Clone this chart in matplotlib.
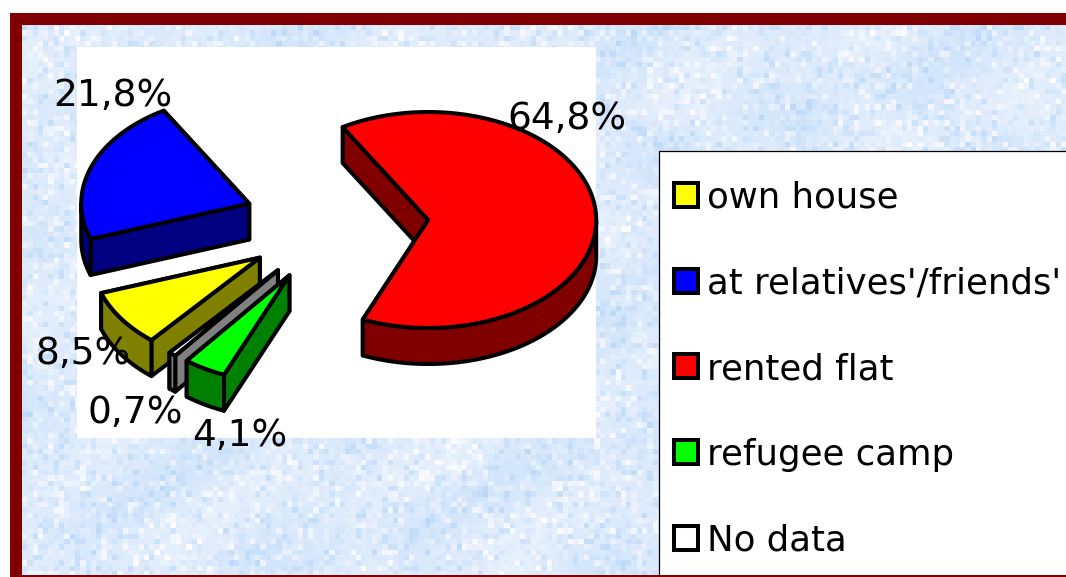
import numpy as np
import matplotlib
matplotlib.use('Agg')
import matplotlib.pyplot as plt
from matplotlib.patches import Polygon, Rectangle

# Data
categories = ['own house', "at relatives'/friends'", 'rented flat', 'refugee camp', 'No data']
values = [8.5, 21.8, 64.8, 4.1, 0.7]
top_colors = ['#ffff00', '#0000ff', '#ff0000', '#00ff00', '#ffffff']
wall_colors = ['#808000', '#000080', '#800000', '#008000', '#808080']

# Pie geometry, in pixels of the picture
center_x, center_y = 336, 224
radius_x, radius_y = 168, 108
depth = 36
explode = 0.55
start_angle = 229.8

label_pos = [(36, 364), (53, 106), (507, 129), (192, 446), (87, 423)]

W, H = 1066, 577
fig = plt.figure(figsize=(W / 100, H / 100), dpi=100, facecolor='white')
ax = fig.add_axes([0, 0, 1, 1])
ax.set_xlim(0, W)
ax.set_ylim(H, 0)
ax.axis('off')

# Dark red frame and the marbled background
ax.add_patch(Rectangle((10, 12.5), W, H, facecolor='#800000', edgecolor='none', zorder=0))
cell = 5.3
nx, ny = int((W - 22) / cell) + 1, int((H - 25) / cell) + 1
jj, ii = np.meshgrid(np.arange(nx), np.arange(ny))
hash1 = np.sin(ii * 12.9898 + jj * 78.233) * 43758.5453
hash1 = hash1 - np.floor(hash1)
blotch = 0.5 * np.sin(jj / 5.0 + np.sin(ii / 7.0) * 2) + 0.5 * np.sin(ii / 4.0 + jj / 11.0)
shade = 0.32 * (hash1 - 0.5) ** 3 * 8 + 0.12 * blotch
base = np.array([221, 235, 252]) / 255
spread = np.array([42, 22, 4]) / 255
texture = np.clip(base[None, None, :] + shade[:, :, None] * spread * 2, 0, 1)
ax.imshow(texture, extent=(22, 22 + nx * cell, 25 + ny * cell, 25), interpolation='nearest',
          aspect='auto', zorder=1)
ax.set_xlim(0, W)
ax.set_ylim(H, 0)

# White plot area
ax.add_patch(Rectangle((77, 47), 519, 391, facecolor='white', edgecolor='none', zorder=2))


def rim(cx, cy, angles):
    a = np.radians(angles)
    return np.column_stack([cx + radius_x * np.cos(a), cy - radius_y * np.sin(a)])


def draw_slice(cx, cy, a_high, a_low, top, wall):
    style = dict(edgecolor='black', linewidth=2.9, joinstyle='round', zorder=3)
    arc = rim(cx, cy, np.linspace(a_low, a_high, 200))
    apex = np.array([cx, cy])
    drop = np.array([0, depth])

    # the two cut faces, the one further back first
    faces = [arc[0], arc[-1]]
    faces.sort(key=lambda p: p[1])
    for p in faces:
        ax.add_patch(Polygon([apex, p, p + drop, apex + drop], facecolor=wall, **style))

    # outer wall, only the part of the rim that faces the viewer
    low = a_low % 360
    angles = np.linspace(low, low + (a_high - a_low), 400)
    visible = np.sin(np.radians(angles)) <= 0
    if visible.any():
        part = rim(cx, cy, angles[visible])
        ax.add_patch(Polygon(np.vstack([part, (part + drop)[::-1]]), facecolor=wall, **style))

    ax.add_patch(Polygon(np.vstack([apex, arc]), facecolor=top, **style))


# Slices run clockwise from the start angle
sweeps = np.array(values) / np.sum(values) * 360
highs = start_angle - np.concatenate([[0], np.cumsum(sweeps)[:-1]])
lows = highs - sweeps
slices = []
for k in range(len(values)):
    mid = np.radians((highs[k] + lows[k]) / 2)
    cx = center_x + explode * radius_x * np.cos(mid)
    cy = center_y - explode * radius_y * np.sin(mid)
    slices.append((cy, cx, k))

for cy, cx, k in sorted(slices):
    draw_slice(cx, cy, highs[k], lows[k], top_colors[k], wall_colors[k])

# Percent labels
for k, v in enumerate(values):
    ax.text(label_pos[k][0], label_pos[k][1], f'{v:.1f}%'.replace('.', ','), fontsize=27,
            family='DejaVu Sans', color='black', ha='left', va='baseline', zorder=5)

# Legend box runs off the right and bottom of the picture
ax.add_patch(Rectangle((659, 151), W, H, facecolor='white', edgecolor='black', linewidth=0.9, zorder=6))
for k, name in enumerate(categories):
    y = 195 + k * 85.7
    ax.add_patch(Rectangle((674, y - 12), 24, 24, facecolor=top_colors[k], edgecolor='black',
                           linewidth=2.9, joinstyle='miter', zorder=7))
    ax.text(707, y + 13, name, fontsize=25.6, family='DejaVu Sans', color='black',
            ha='left', va='baseline', zorder=7)

# Bottom edge of the frame lies over the legend box
ax.add_patch(Rectangle((10, 575), W, 3, facecolor='#800000', edgecolor='none', zorder=8))

fig.savefig('out.png', dpi=100)
